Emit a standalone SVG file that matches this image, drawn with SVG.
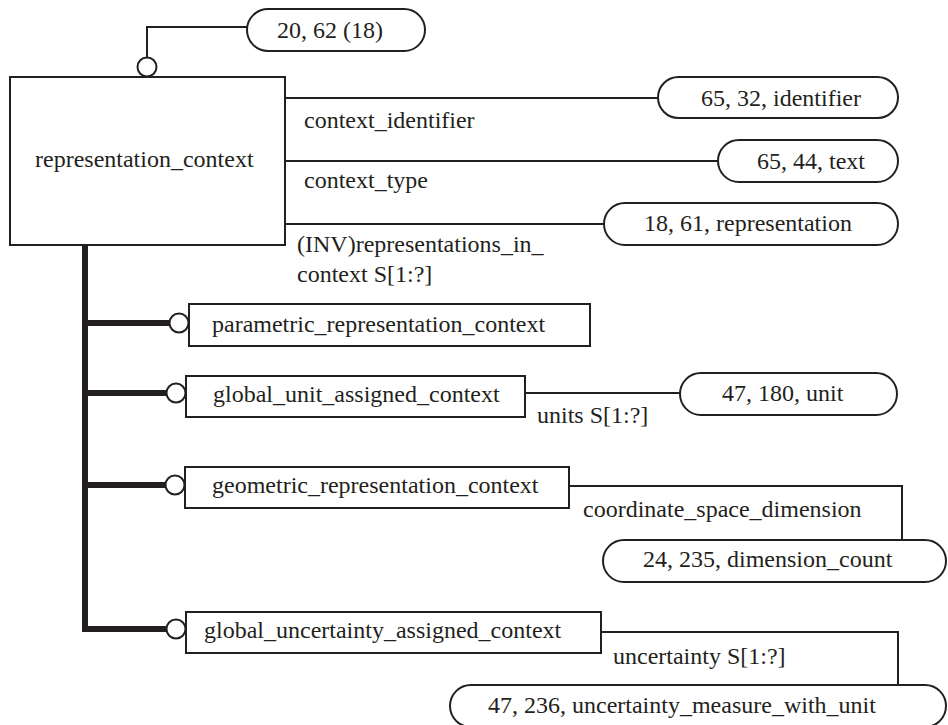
<svg xmlns="http://www.w3.org/2000/svg" width="948" height="725" viewBox="0 0 948 725">
<style>
text{font-family:'Liberation Serif',serif;font-size:24px;fill:#231f20}
.box{fill:#fff;stroke:#231f20;stroke-width:2}
.pill{fill:#fff;stroke:#231f20;stroke-width:2}
.ln{fill:none;stroke:#231f20;stroke-width:2}
.thick{fill:none;stroke:#231f20;stroke-width:6}
.circ{fill:#fff;stroke:#231f20;stroke-width:2}
</style>
<g id="connectors">
<polyline class="ln" points="147,58 147,27 247,27"/>
<line class="ln" x1="285" y1="98" x2="658" y2="98"/>
<line class="ln" x1="285" y1="161" x2="718" y2="161"/>
<line class="ln" x1="285" y1="224" x2="604" y2="224"/>
<line class="thick" x1="85" y1="245" x2="85" y2="632"/>
<line class="thick" x1="82" y1="323" x2="170" y2="323"/>
<line class="thick" x1="82" y1="393" x2="167" y2="393"/>
<line class="thick" x1="82" y1="485" x2="166" y2="485"/>
<line class="thick" x1="82" y1="629" x2="167" y2="629"/>
<line class="ln" x1="525" y1="393" x2="680" y2="393"/>
<polyline class="ln" points="569,486 902,486 902,540"/>
<polyline class="ln" points="601,632 898,632 898,685"/>
<circle class="circ" cx="147" cy="67" r="9.5"/>
<circle class="circ" cx="179" cy="323" r="9.5"/>
<circle class="circ" cx="176" cy="393" r="9.5"/>
<circle class="circ" cx="175" cy="485" r="9.5"/>
<circle class="circ" cx="176" cy="629" r="9.5"/>
<text x="304" y="128">context_identifier</text>
<text x="304" y="188">context_type</text>
<text x="297" y="252">(INV)representations_in_</text>
<text x="297" y="282">context S[1:?]</text>
<text x="537" y="423">units S[1:?]</text>
<text x="583" y="517">coordinate_space_dimension</text>
<text x="613" y="664">uncertainty S[1:?]</text>
</g>
<g id="representation_context">
<rect class="box" x="10" y="77" width="275" height="168"/>
<text x="35" y="167">representation_context</text>
</g>
<g id="ref_20_62">
<rect class="pill" x="247" y="9" width="178" height="42" rx="21"/>
<text x="277" y="38">20, 62 (18)</text>
</g>
<g id="ref_65_32">
<rect class="pill" x="658" y="77" width="240" height="41" rx="20.5"/>
<text x="701" y="106">65, 32, identifier</text>
</g>
<g id="ref_65_44">
<rect class="pill" x="718" y="140" width="180" height="42" rx="21"/>
<text x="757" y="169">65, 44, text</text>
</g>
<g id="ref_18_61">
<rect class="pill" x="604" y="203" width="294" height="42" rx="21"/>
<text x="644" y="231">18, 61, representation</text>
</g>
<g id="parametric_representation_context">
<rect class="box" x="189" y="304" width="401" height="42"/>
<text x="212" y="332">parametric_representation_context</text>
</g>
<g id="global_unit_assigned_context">
<rect class="box" x="186" y="376" width="339" height="41"/>
<text x="213" y="402">global_unit_assigned_context</text>
</g>
<g id="ref_47_180">
<rect class="pill" x="680" y="373" width="217" height="42" rx="21"/>
<text x="722" y="401">47, 180, unit</text>
</g>
<g id="geometric_representation_context">
<rect class="box" x="185" y="467" width="384" height="41"/>
<text x="212" y="493">geometric_representation_context</text>
</g>
<g id="ref_24_235">
<rect class="pill" x="603" y="540" width="343" height="42" rx="21"/>
<text x="643" y="567">24, 235, dimension_count</text>
</g>
<g id="global_uncertainty_assigned_context">
<rect class="box" x="186" y="612" width="415" height="41"/>
<text x="204" y="638">global_uncertainty_assigned_context</text>
</g>
<g id="ref_47_236">
<rect class="pill" x="450" y="685" width="496" height="42" rx="21"/>
<text x="488" y="713">47, 236, uncertainty_measure_with_unit</text>
</g>
</svg>
